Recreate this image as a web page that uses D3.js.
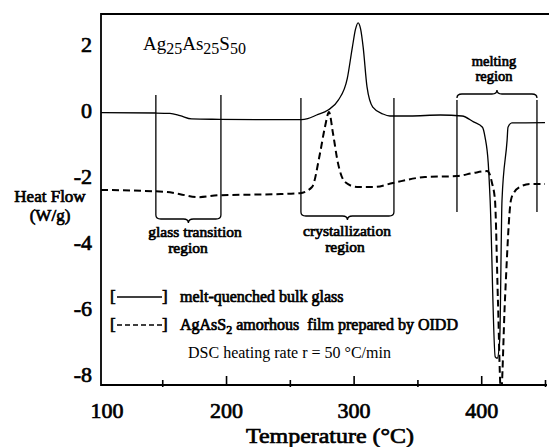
<!DOCTYPE html>
<html>
<head>
<meta charset="utf-8">
<script src="https://cdn.jsdelivr.net/npm/d3@7"></script>
<style>
  body { margin: 0; background: #fff; }
  svg { display: block; font-family: "Liberation Serif", "Times New Roman", serif; }
  .pre { white-space: pre; }
  .b { stroke: #000; stroke-width: 0.7px; paint-order: stroke; }
</style>
</head>
<body>
<div id="chart"></div>
<script>
// bulk glass (solid) - temperature (°C) and heat flow (W/g)
const bulkTemp = [102, 145, 156, 164, 173, 195, 242, 259, 264, 271, 280, 288, 295, 299, 301.5, 303.5, 305.5, 307.5, 310.5, 315, 323, 328.5, 344, 368, 385, 394, 401, 403, 405.5, 407, 411, 412.5, 414.5, 416.3, 420.3, 421, 424, 450];
const bulkFlow = [-0.08, -0.09, -0.1, -0.17, -0.27, -0.28, -0.29, -0.29, -0.26, -0.15, 0.0, 0.3, 0.95, 1.9, 2.45, 2.64, 2.45, 1.9, 0.7, 0.09, -0.12, -0.18, -0.18, -0.15, -0.18, -0.36, -0.52, -0.82, -1.6, -2.73, -7.48, -7.52, -6.97, -2.73, -0.91, -0.52, -0.39, -0.38];

// AgAsS2 film (dashed)
const filmTemp = [102, 153.7, 164, 178, 195.3, 238.4, 258, 267.4, 273.7, 277.5, 280.7, 283.8, 287.7, 293.2, 302.6, 316.7, 330.8, 355.9, 381, 393.5, 404.5, 406.9, 408.4, 410.8, 413.1, 415.5, 418.6, 423.3, 425.7, 430.4, 438.2, 450];
const filmFlow = [-2.42, -2.48, -2.55, -2.64, -2.58, -2.55, -2.52, -2.33, -1.3, -0.52, -0.06, -0.7, -1.6, -2.18, -2.33, -2.33, -2.21, -2.03, -2.0, -1.91, -1.85, -1.97, -2.2, -2.73, -5.76, -8.6, -5.76, -2.73, -2.5, -2.33, -2.24, -2.24];

const xTicks = [100, 200, 300, 400];
const xMinorTicks = [150, 250, 350, 450];
const yTicks = [2, 0, -2, -4, -6, -8];

// region boundaries (°C)
const regions = [
  { lines: ["glass transition", "region"], t0: 145, t1: 196 },
  { lines: ["crystallization", "region"], t0: 258.7, t1: 331.6 },
  { lines: ["melting", "region"], t0: 381, t1: 443.7 },
];

const W = 549, H = 447;
const m = { left: 101, right: 545, top: 14, bottom: 385 };

const svg = d3.select("#chart").append("svg")
  .attr("width", W).attr("height", H);

const x = d3.scaleLinear().domain([102, 450]).range([m.left, m.right]);
const y = d3.scaleLinear().domain([-8.33, 2.91]).range([m.bottom, m.top]);

svg.append("clipPath").attr("id", "plot")
  .append("rect").attr("x", m.left).attr("y", m.top)
  .attr("width", W - m.left).attr("height", m.bottom - m.top);

// frame
svg.append("path")
  .attr("d", `M${W},${m.top}H${m.left}V${m.bottom}H${W - 2}`)
  .attr("fill", "none").attr("stroke", "#000").attr("stroke-width", 1.8);

// x axis: major ticks + labels
const xAxis = svg.append("g")
  .attr("transform", `translate(0,${m.bottom})`)
  .call(d3.axisBottom(x).tickValues(xTicks).tickSize(-9).tickSizeOuter(0)
    .tickPadding(17).tickFormat((d) => String(d)));
xAxis.select(".domain").remove();
xAxis.selectAll(".tick line").attr("stroke-width", 1.6)
  .filter((d) => d === 100).remove();
xAxis.selectAll(".tick text")
  .attr("class", "b")
  .attr("font-size", 22)
  .attr("font-family", "Liberation Serif, serif").attr("fill", "#000")
  .attr("dx", (d) => (d === 100 ? 8 : 0));

// minor ticks
const xMinor = svg.append("g")
  .attr("transform", `translate(0,${m.bottom})`)
  .call(d3.axisBottom(x).tickValues(xMinorTicks).tickSize(-5).tickSizeOuter(0).tickFormat(""));
xMinor.select(".domain").remove();
xMinor.selectAll(".tick line").attr("stroke-width", 1.6).attr("y2", -5).attr("y1", 2);

// y axis labels only
const yAxis = svg.append("g")
  .attr("transform", `translate(${m.left},0)`)
  .call(d3.axisLeft(y).tickValues(yTicks).tickSize(0).tickPadding(9)
    .tickFormat((d) => String(d)));
yAxis.select(".domain").remove();
yAxis.selectAll(".tick text")
  .attr("class", "b")
  .attr("font-size", 22)
  .attr("font-family", "Liberation Serif, serif").attr("fill", "#000");

// curves
const line = d3.line()
  .x((d) => x(d[0]))
  .y((d) => y(d[1]))
  .curve(d3.curveMonotoneX);

const plot = svg.append("g").attr("clip-path", "url(#plot)");

plot.append("path")
  .datum(bulkTemp.map((t, i) => [t, bulkFlow[i]]))
  .attr("d", line)
  .attr("fill", "none").attr("stroke", "#000").attr("stroke-width", 1.3);

plot.append("path")
  .datum(filmTemp.map((t, i) => [t, filmFlow[i]]))
  .attr("d", line)
  .attr("fill", "none").attr("stroke", "#000").attr("stroke-width", 2)
  .attr("stroke-dasharray", "7,4");

// region markers
function brace(x0, x1, yb, dir) {
  // dir = 1 tip points down, -1 tip points up
  const xm = (x0 + x1) / 2, c = 4 * dir;
  return `M${x0},${yb - c}Q${x0},${yb} ${x0 + 5},${yb}` +
    `H${xm - 5}Q${xm},${yb} ${xm},${yb + c}Q${xm},${yb} ${xm + 5},${yb}` +
    `H${x1 - 5}Q${x1},${yb} ${x1},${yb - c}`;
}

const rg = svg.append("g").attr("stroke", "#000").attr("fill", "none");
const vTop = [95, 98, 100], vBot = [215, 212, 212];
regions.forEach((r, i) => {
  [r.t0, r.t1].forEach((t) => {
    rg.append("line")
      .attr("x1", x(t)).attr("x2", x(t))
      .attr("y1", vTop[i]).attr("y2", vBot[i])
      .attr("stroke-width", 1.3);
  });
  const down = i < 2;
  rg.append("path")
    .attr("d", brace(x(r.t0), x(r.t1), down ? vBot[i] + 4 : vTop[i] - 6, down ? 1 : -1))
    .attr("stroke-width", 1.3);
});

const txt = (tx, ty, s, size, bold, anchor) =>
  svg.append("text").attr("x", tx).attr("y", ty)
    .attr("class", bold ? "b" : null)
    .attr("font-size", size)
    .attr("text-anchor", anchor || "start").attr("fill", "#000").text(s);

txt(195, 237, regions[0].lines[0], 15.5, true, "middle");
txt(188, 253, regions[0].lines[1], 15.5, true, "middle");
txt(347, 236, regions[1].lines[0], 15.5, true, "middle");
txt(345, 252, regions[1].lines[1], 15.5, true, "middle");
txt(494, 66, regions[2].lines[0], 14.5, true, "middle");
txt(494, 81, regions[2].lines[1], 14.5, true, "middle");

// composition label
const comp = svg.append("text").attr("x", 143).attr("y", 50)
  .attr("font-size", 19).attr("fill", "#000");
[["Ag", 0], ["25", 1], ["As", 0], ["25", 1], ["S", 0], ["50", 1]].forEach(([s, sub], i, arr) => {
  const prev = i > 0 ? arr[i - 1][1] : 0;
  comp.append("tspan")
    .attr("dy", sub === prev ? 0 : (sub ? 4 : -4))
    .attr("font-size", sub ? 16 : 19).text(s);
});

// legend
txt(110, 302, "[", 17, true);
txt(162, 302, "]", 17, true);
svg.append("line").attr("x1", 117).attr("x2", 162).attr("y1", 297).attr("y2", 297)
  .attr("stroke", "#000").attr("stroke-width", 1.3);
txt(180, 302, "melt-quenched bulk glass", 16, true);

txt(110, 330, "[", 17, true);
txt(162, 330, "]", 17, true);
svg.append("line").attr("x1", 117).attr("x2", 162).attr("y1", 325).attr("y2", 325)
  .attr("stroke", "#000").attr("stroke-width", 1.3).attr("stroke-dasharray", "5,3");
const lg2 = txt(180, 330, "AgAsS", 16, true).attr("class", "b pre");
lg2.append("tspan").attr("dy", 4).attr("font-size", 12).text("2");
lg2.append("tspan").attr("dy", -4).text(" amorhous  film prepared by OIDD");

txt(188, 358, "DSC heating rate r = 50 °C/min", 16, false);

// axis titles
txt(50, 202, "Heat Flow", 17, true, "middle");
txt(50, 221, "(W/g)", 17, true, "middle");
txt(330, 443, "Temperature (°C)", 22, true, "middle")
  .attr("textLength", 168).attr("lengthAdjust", "spacingAndGlyphs");
</script>
</body>
</html>
